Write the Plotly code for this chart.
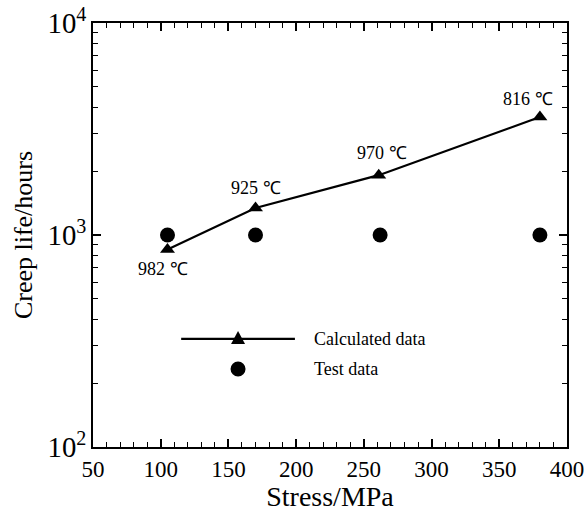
import math
import plotly.graph_objects as go

stress_calc = [105, 170, 261, 380]
life_calc = [855, 1340, 1915, 3600]
temps = ["982 ℃", "925 ℃", "970 ℃", "816 ℃"]
stress_test = [105, 170, 262, 380]
life_test = [1000, 1000, 1000, 1000]
legend_labels = ["Calculated data", "Test data"]
y_minor_ticks = [200, 300, 400, 500, 600, 700, 800, 900,
                 2000, 3000, 4000, 5000, 6000, 7000, 8000, 9000]

FONT = "Liberation Serif"

fig = go.Figure()
fig.add_trace(go.Scatter(x=stress_calc, y=life_calc, mode="lines+markers",
                         line=dict(color="black", width=2.2),
                         marker=dict(symbol="triangle-up", size=13, color="black"),
                         showlegend=False))
fig.add_trace(go.Scatter(x=stress_test, y=life_test, mode="markers",
                         marker=dict(symbol="circle", size=15, color="black"),
                         showlegend=False))
# invisible trace so the minor-tick overlay axes are drawn
fig.add_trace(go.Scatter(x=[stress_test[0]], y=[life_test[0]], mode="markers",
                         marker=dict(size=1, opacity=0), xaxis="x2", yaxis="y2",
                         showlegend=False, hoverinfo="skip"))

LX, LY1, LY2 = 0.306, 0.255, 0.184
shapes = [
    dict(type="line", xref="paper", yref="paper", x0=0.186, x1=0.426, y0=LY1, y1=LY1,
         line=dict(color="black", width=2.2)),
    dict(type="path", xref="paper", yref="paper", xsizemode="pixel", ysizemode="pixel",
         xanchor=LX, yanchor=LY1, path="M -7,-5 L 7,-5 L 0,8 Z",
         fillcolor="black", line=dict(color="black", width=0)),
    dict(type="circle", xref="paper", yref="paper", xsizemode="pixel", ysizemode="pixel",
         xanchor=LX, yanchor=LY2, x0=-7.5, x1=7.5, y0=-7.5, y1=7.5,
         fillcolor="black", line=dict(color="black", width=0)),
]

annotations = []
shifts = [(-4, -20), (0, 20), (3, 22), (-12, 18)]
for x, y, t, (dx, dy) in zip(stress_calc, life_calc, temps, shifts):
    annotations.append(dict(x=x, y=math.log10(y), text=t, showarrow=False,
                            xshift=dx, yshift=dy, font=dict(family=FONT, size=18, color="black")))
for lbl, ly in zip(legend_labels, [LY1, LY2]):
    annotations.append(dict(xref="paper", yref="paper", x=0.462, y=ly, text=lbl,
                            showarrow=False, xanchor="left", yanchor="middle",
                            font=dict(family=FONT, size=18, color="black")))

axis_common = dict(showgrid=False, zeroline=False, showline=True, linecolor="black",
                   linewidth=2, mirror="allticks", ticks="inside", tickcolor="black",
                   tickwidth=2, ticklen=8, automargin=False,
                   tickfont=dict(family=FONT, size=23, color="black"))
minor_common = dict(showgrid=False, zeroline=False, showline=False, mirror="allticks",
                    ticks="inside", tickcolor="black", tickwidth=1.3, ticklen=5,
                    showticklabels=False, automargin=False)

fig.update_layout(
    width=587, height=512,
    margin=dict(l=93, r=20, t=23, b=65),
    paper_bgcolor="white", plot_bgcolor="white",
    xaxis=dict(range=[50, 400], dtick=50, tick0=50,
               title=dict(text="Stress/MPa", font=dict(family=FONT, size=28, color="black"), standoff=0),
               **axis_common),
    yaxis=dict(type="log", range=[2, 4], dtick=1, exponentformat="power",
               ticklabeloverflow="allow",
               title=dict(text="Creep life/hours", font=dict(family=FONT, size=26, color="black"), standoff=7),
               **axis_common),
    xaxis2=dict(overlaying="x", anchor="y2", range=[50, 400], dtick=10, tick0=50, **minor_common),
    yaxis2=dict(overlaying="y", anchor="x2", type="log", range=[2, 4],
                tickvals=y_minor_ticks, **minor_common),
    shapes=shapes,
    annotations=annotations,
    showlegend=False,
)

# remove the default 8px page margin so the figure fills the window exactly
fig.write_html("out.html", config={"displayModeBar": False},
               post_script="document.body.style.margin='0';")
